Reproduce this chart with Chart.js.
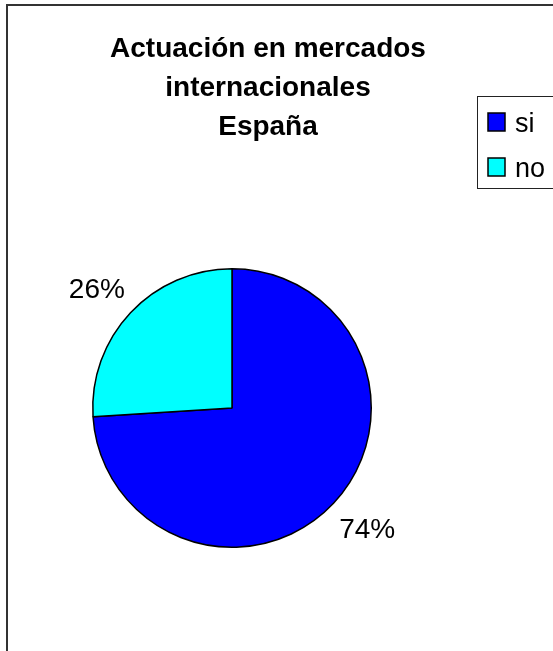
<!DOCTYPE html>
<html>
<head>
<meta charset="utf-8">
<script src="https://cdn.jsdelivr.net/npm/chart.js@4/dist/chart.umd.min.js"></script>
<style>
  html, body { margin: 0; padding: 0; background: #fff; }
  #wrap { width: 553px; height: 651px; position: relative; }
</style>
</head>
<body>
<div id="wrap"><canvas id="myChart" width="553" height="651"></canvas></div>
<script>
'use strict';
const titleLines = ['Actuación en mercados', 'internacionales', 'España'];
const labels = ['si', 'no'];
const values = [74, 26];
const colors = ['#0000FF', '#00FFFF'];

const FONT = '"Liberation Sans", Arial, sans-serif';

// frame, title, legend and percent labels
const extras = {
  id: 'extras',
  beforeDraw(chart) {
    const ctx = chart.ctx;
    ctx.save();
    ctx.fillStyle = '#fff';
    ctx.fillRect(0, 0, chart.width, chart.height);
    ctx.strokeStyle = '#333';
    ctx.lineWidth = 2;
    ctx.strokeRect(7, 5, 620, 720);
    ctx.restore();
  },
  afterDraw(chart) {
    const ctx = chart.ctx;
    ctx.save();
    // title
    ctx.fillStyle = '#000';
    ctx.textAlign = 'center';
    ctx.textBaseline = 'alphabetic';
    ctx.font = 'bold 28px ' + FONT;
    for (let i = 0; i < titleLines.length; i++) {
      ctx.fillText(titleLines[i], 268, 57 + i * 39);
    }
    // legend
    ctx.strokeStyle = '#222';
    ctx.lineWidth = 1;
    ctx.strokeRect(477.5, 96.5, 100, 92);
    ctx.textAlign = 'left';
    ctx.font = '27px ' + FONT;
    for (let i = 0; i < labels.length; i++) {
      const y = 113 + i * 45;
      ctx.fillStyle = colors[i];
      ctx.fillRect(488, y, 17, 18);
      ctx.strokeStyle = '#000';
      ctx.lineWidth = 1.5;
      ctx.strokeRect(488, y, 17, 18);
      ctx.fillStyle = '#000';
      ctx.fillText(labels[i], 515, y + 19);
    }
    // percent labels, nearest corner anchored outside the slice
    const meta = chart.getDatasetMeta(0);
    const total = values.reduce((a, b) => a + b, 0);
    ctx.font = '28px ' + FONT;
    ctx.textBaseline = 'alphabetic';
    meta.data.forEach((arc, i) => {
      const mid = (arc.startAngle + arc.endAngle) / 2;
      const r = arc.outerRadius * 1.09;
      const cx = Math.cos(mid), cy = Math.sin(mid);
      const sx = cx >= 0 ? 1 : -1, sy = cy >= 0 ? 1 : -1;
      const x = arc.x + cx * r - sx * 3.5;
      const y = arc.y + cy * r + sy * 6;
      ctx.textAlign = sx > 0 ? 'left' : 'right';
      ctx.fillText(Math.round(values[i] / total * 100) + '%', x, sy > 0 ? y + 20 : y);
    });
    ctx.restore();
  }
};

const ctx = document.getElementById('myChart').getContext('2d');
const chart = new Chart(ctx, {
  type: 'pie',
  data: {
    labels: labels,
    datasets: [{
      data: values,
      backgroundColor: colors,
      borderColor: '#000',
      borderWidth: 1.5
    }]
  },
  options: {
    responsive: false,
    animation: false,
    layout: { padding: { left: 92, right: 181, top: 268, bottom: 103 } },
    plugins: {
      legend: { display: false },
      title: { display: false },
      tooltip: { enabled: false }
    }
  },
  plugins: [extras]
});
</script>
</body>
</html>
